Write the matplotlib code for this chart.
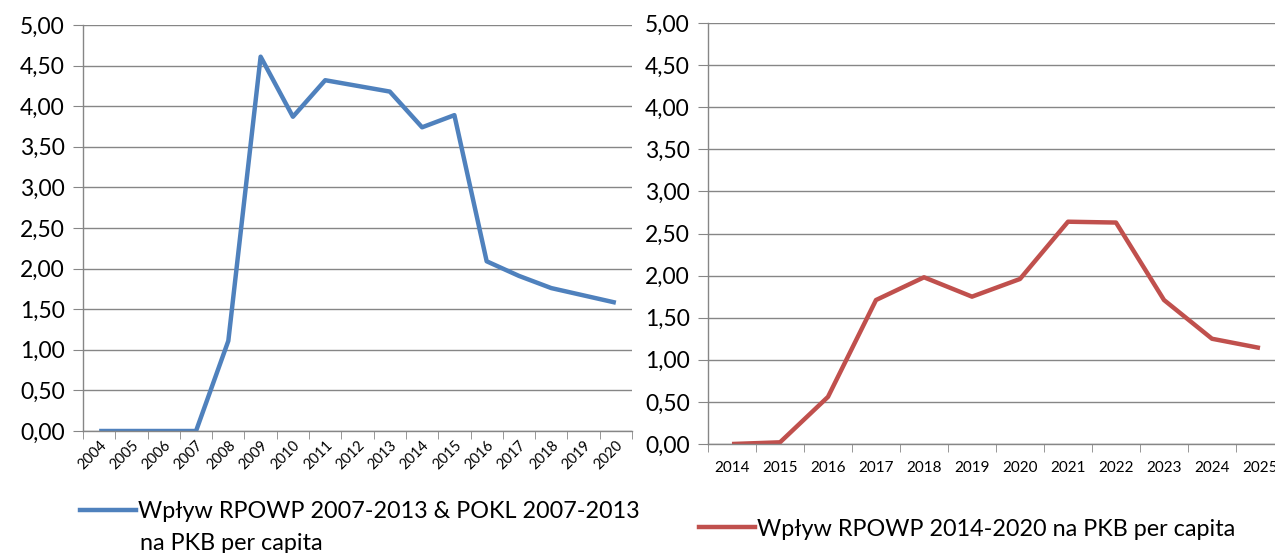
import matplotlib.pyplot as plt
from matplotlib.ticker import FixedLocator, FuncFormatter
from matplotlib.lines import Line2D

plt.rcParams['font.family'] = ['Lato', 'DejaVu Sans']

# left chart
years_a = ['2004', '2005', '2006', '2007', '2008', '2009', '2010', '2011', '2012',
           '2013', '2014', '2015', '2016', '2017', '2018', '2019', '2020']
vals_a = [0.00, 0.00, 0.00, 0.00, 1.11, 4.61, 3.87, 4.32, 4.25,
          4.18, 3.74, 3.89, 2.09, 1.91, 1.76, 1.67, 1.58]
label_a = 'Wpływ RPOWP 2007-2013 & POKL 2007-2013'
label_a2 = 'na PKB per capita'

# right chart
years_b = ['2014', '2015', '2016', '2017', '2018', '2019', '2020', '2021', '2022',
           '2023', '2024', '2025']
vals_b = [0.00, 0.02, 0.56, 1.71, 1.98, 1.75, 1.96, 2.64, 2.63, 1.71, 1.25, 1.14]
label_b = 'Wpływ RPOWP 2014-2020 na PKB per capita'

yticks = [0, 0.5, 1, 1.5, 2, 2.5, 3, 3.5, 4, 4.5, 5]

grid_c = '#868686'
blue = '#4F81BD'
red = '#C0504D'

W, H = 1275, 553
fig = plt.figure(figsize=(W / 100, H / 100), dpi=100)


def style(ax, n):
    ax.set_ylim(0, 5)
    ax.set_xlim(-0.5, n - 0.5)
    ax.set_yticks(yticks)
    ax.yaxis.set_major_formatter(FuncFormatter(lambda v, p: f'{v:.2f}'.replace('.', ',')))
    ax.grid(axis='y', color=grid_c, linewidth=1)
    ax.set_axisbelow(True)
    for s in ['top', 'right']:
        ax.spines[s].set_visible(False)
    for s in ['left', 'bottom']:
        ax.spines[s].set_color(grid_c)
        ax.spines[s].set_linewidth(1)
    ax.tick_params(axis='y', length=7, color=grid_c, labelsize=16.5, pad=6)
    ax.xaxis.set_minor_locator(FixedLocator([i - 0.5 for i in range(n + 1)]))
    ax.tick_params(axis='x', which='major', length=0)
    ax.tick_params(axis='x', which='minor', length=6, color=grid_c)


ax1 = fig.add_axes([83 / W, 122 / H, (632 - 83) / W, (431 - 25) / H])
ax1.plot(range(len(years_a)), vals_a, color=blue, linewidth=3.2, solid_capstyle='butt')
style(ax1, len(years_a))
ax1.set_xticks(range(len(years_a)))
ax1.set_xticklabels(years_a, rotation=45, ha='right', rotation_mode='anchor', fontsize=10.5)
ax1.tick_params(axis='x', which='major', pad=5)

ax2 = fig.add_axes([708 / W, 109 / H, (1284 - 708) / W, (444 - 23) / H])
ax2.plot(range(len(years_b)), vals_b, color=red, linewidth=3.2, solid_capstyle='butt')
style(ax2, len(years_b))
ax2.set_xticks(range(len(years_b)))
ax2.set_xticklabels(years_b, fontsize=11)
ax2.tick_params(axis='x', which='major', pad=12)

# legends
fig.legend(handles=[Line2D([], [], color=blue, linewidth=3.2)], labels=[label_a],
           loc='center left', bbox_to_anchor=(80 / W, 1 - 512 / H), frameon=False,
           fontsize=16.8, handlelength=2.4, handletextpad=0.1, borderpad=0, borderaxespad=0)
fig.text(140 / W, 1 - 543 / H, label_a2, fontsize=16.8, va='center', ha='left')
fig.legend(handles=[Line2D([], [], color=red, linewidth=3.2)], labels=[label_b],
           loc='center left', bbox_to_anchor=(699 / W, 1 - 529 / H), frameon=False,
           fontsize=16.8, handlelength=2.4, handletextpad=0.1, borderpad=0, borderaxespad=0)

fig.savefig('out.png', dpi=100)
